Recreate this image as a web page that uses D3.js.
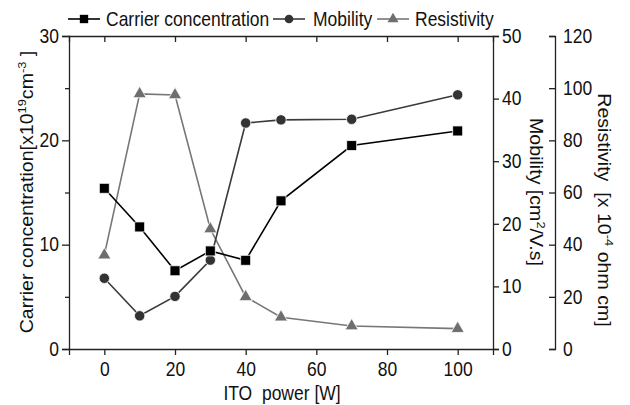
<!DOCTYPE html>
<html>
<head>
<meta charset="utf-8">
<script src="https://cdn.jsdelivr.net/npm/d3@7/dist/d3.min.js"></script>
<style>
  html, body { margin: 0; padding: 0; background: #fff; }
  svg { display: block; font-family: Arial, "Liberation Sans", sans-serif; }
  text { fill: #111; }
</style>
</head>
<body>
<svg id="chart" width="630" height="405"></svg>
<script>
// ITO sputtering power [W]
const power = [0, 10, 20, 30, 40, 50, 70, 100];
// Carrier concentration [x10^19 cm^-3]
const carrier = [15.4, 11.7, 7.5, 9.4, 8.5, 14.2, 19.5, 20.9];
// Hall mobility [cm^2/V.s]
const mobility = [11.3, 5.3, 8.4, 14.2, 36.1, 36.6, 36.7, 40.6];
// Resistivity [x10^-4 ohm cm]
const resistivity = [36.0, 97.8, 97.4, 46.0, 20.0, 12.2, 8.8, 7.8];

const xTicks = [0, 20, 40, 60, 80, 100];
const carrierTicks = [0, 10, 20, 30];
const carrierMinor = [5, 15, 25];
const mobilityTicks = [0, 10, 20, 30, 40, 50];
const resistivityTicks = [0, 20, 40, 60, 80, 100, 120];

const svg = d3.select("#chart");
const plotLeft = 69, plotRight = 493, plotTop = 36, plotBottom = 349;
const resAxisX = 555;
const fs = 17.5;       // base font size
const stretch = 1.12;  // glyphs are drawn slightly tall and narrow

const x = d3.scaleLinear().domain([-10, 110]).range([plotLeft, plotRight]);
const yC = d3.scaleLinear().domain([0, 30]).range([plotBottom, plotTop]);
const yM = d3.scaleLinear().domain([0, 50]).range([plotBottom, plotTop]);
const yR = d3.scaleLinear().domain([0, 120]).range([plotBottom, plotTop]);

const axisColor = "#222";
function styleAxis(g) {
  g.selectAll("path.domain").attr("stroke", axisColor).attr("stroke-width", 1.3);
  g.selectAll(".tick line").attr("stroke", axisColor).attr("stroke-width", 1.3);
  g.selectAll(".tick text").attr("font-size", fs).attr("fill", "#111")
    .attr("font-family", "Arial, 'Liberation Sans', sans-serif")
    .each(function () {
      const t = d3.select(this);
      const ty = +t.attr("y") || 0;
      t.attr("transform", `translate(0,${ty}) scale(1,${stretch}) translate(0,${-ty})`);
    });
}

// bottom axis
const gx = svg.append("g").attr("transform", `translate(0,${plotBottom})`)
  .call(d3.axisBottom(x).tickValues(xTicks).tickSizeOuter(0).tickSize(6).tickPadding(7));
styleAxis(gx);

// top frame with inward ticks
const gt = svg.append("g").attr("transform", `translate(0,${plotTop})`)
  .call(d3.axisBottom(x).tickValues(xTicks).tickSizeOuter(0).tickSize(6).tickFormat(""));
styleAxis(gt);

// left axis: carrier concentration
const gl = svg.append("g").attr("transform", `translate(${plotLeft},0)`)
  .call(d3.axisLeft(yC).tickValues(carrierTicks).tickSizeOuter(0).tickSize(7).tickPadding(3));
styleAxis(gl);
const glm = svg.append("g").attr("transform", `translate(${plotLeft},0)`)
  .call(d3.axisLeft(yC).tickValues(carrierMinor).tickSizeOuter(0).tickSize(4).tickFormat(""));
styleAxis(glm);
glm.select("path.domain").remove();

// right axis: mobility
const gm = svg.append("g").attr("transform", `translate(${plotRight},0)`)
  .call(d3.axisRight(yM).tickValues(mobilityTicks).tickSizeOuter(0).tickSize(6).tickPadding(3));
styleAxis(gm);

// offset axis: resistivity, ticks pointing left, labels right
const gr = svg.append("g").attr("transform", `translate(${resAxisX},0)`)
  .call(d3.axisRight(yR).tickValues(resistivityTicks).tickSizeOuter(0).tickSize(-6).tickPadding(8));
styleAxis(gr);

// axis titles
svg.append("text")
  .attr("transform", `translate(282,400) scale(1,${stretch})`)
  .attr("text-anchor", "middle").attr("font-size", fs).text("ITO\u00a0 power [W]");

function titleWithSups(x0, y0, angle, parts) {
  const t = svg.append("text")
    .attr("transform", `translate(${x0},${y0}) rotate(${angle}) scale(${stretch},1)`)
    .attr("text-anchor", "middle").attr("font-size", fs);
  parts.forEach(([txt, sup]) => {
    if (sup) {
      t.append("tspan").attr("font-size", 11.5).attr("dy", -7).text(txt);
    } else {
      const sp = t.append("tspan").text(txt);
      if (t.selectAll("tspan").size() > 1) sp.attr("dy", 7);
    }
  });
  return t;
}

titleWithSups(33, 192, -90, [["Carrier concentration[x10"], ["19", true], ["cm"], ["-3", true], [" ]"]]);
titleWithSups(530, 192, 90, [["Mobility [cm"], ["2", true], ["/V.s]"]]);
titleWithSups(598, 210, 90, [["Resistivity\u00a0 [x 10"], ["-4", true], [" ohm cm]"]]);

// series
const series = [
  { name: "Carrier concentration", values: carrier, y: yC, color: "#000", line: "#000", shape: d3.symbolSquare, size: 100 },
  { name: "Mobility", values: mobility, y: yM, color: "#333", line: "#3a3a3a", shape: d3.symbolCircle, size: 85 },
  { name: "Resistivity", values: resistivity, y: yR, color: "#6e6e6e", line: "#777", shape: d3.symbolTriangle, size: 75 }
];

const plot = svg.append("g");
series.slice().reverse().forEach(s => {
  const pts = power.map((p, i) => [x(p), s.y(s.values[i])]);
  plot.append("path").attr("d", d3.line()(pts))
    .attr("fill", "none").attr("stroke", s.line).attr("stroke-width", 1.6);
  plot.selectAll(null).data(pts).join("path")
    .attr("transform", d => `translate(${d[0]},${d[1]})`)
    .attr("d", d3.symbol().type(s.shape).size(s.size))
    .attr("fill", s.color).attr("stroke", "#fff").attr("stroke-width", 0.8);
});

// legend
const legendItems = [
  { s: series[0], x0: 68, tx: 106 },
  { s: series[1], x0: 273, tx: 313 },
  { s: series[2], x0: 377, tx: 415 }
];
const ly = 19;
legendItems.forEach(it => {
  const g = svg.append("g");
  g.append("line").attr("x1", it.x0).attr("x2", it.x0 + 32).attr("y1", ly).attr("y2", ly)
    .attr("stroke", it.s.line).attr("stroke-width", 1.6);
  g.append("path").attr("transform", `translate(${it.x0 + 16},${ly})`)
    .attr("d", d3.symbol().type(it.s.shape).size(it.s.size * 0.7))
    .attr("fill", it.s.color);
  g.append("text").attr("transform", `translate(${it.tx},${ly + 7}) scale(1,${stretch})`)
    .attr("font-size", fs).text(it.s.name);
});
</script>
</body>
</html>
